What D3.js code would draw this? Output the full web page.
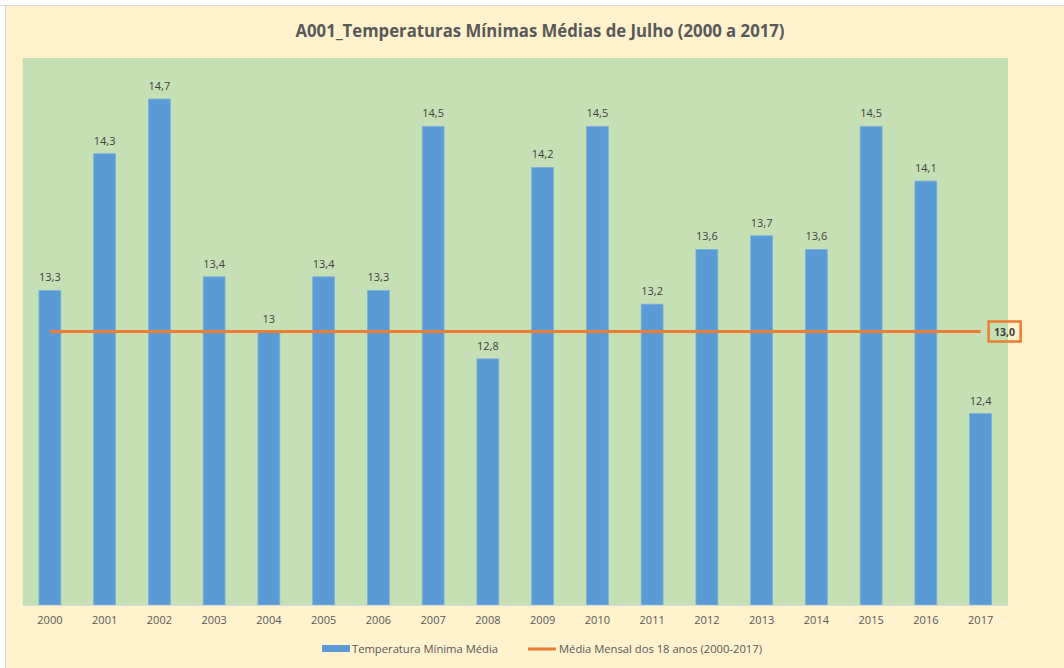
<!DOCTYPE html>
<html><head><meta charset="utf-8">
<script src="https://cdn.jsdelivr.net/npm/d3@7"></script>
<style>body{margin:0;background:#fff;}svg{display:block;}</style>
</head><body>
<script>
const years = ["2000","2001","2002","2003","2004","2005","2006","2007","2008","2009","2010","2011","2012","2013","2014","2015","2016","2017"];
const minTemps = [13.3,14.3,14.7,13.4,13.0,13.4,13.3,14.5,12.8,14.2,14.5,13.2,13.6,13.7,13.6,14.5,14.1,12.4];
const meanTemp = 13.0;
const titleText = "A001_Temperaturas Mínimas Médias de Julho (2000 a 2017)";
const legendLabels = ["Temperatura Mínima Média","Média Mensal dos 18 anos (2000-2017)"];

const W=1064,H=668;
const svg=d3.select("body").append("svg").attr("width",W).attr("height",H);
svg.append("rect").attr("width",W).attr("height",H).attr("fill","#fff");
svg.append("rect").attr("x",6).attr("y",6).attr("width",W-6).attr("height",H-6).attr("fill","#FFF2CC");
svg.append("line").attr("x1",0).attr("x2",W).attr("y1",5.5).attr("y2",5.5).attr("stroke","#d9d9d9");
svg.append("line").attr("x1",5.5).attr("x2",5.5).attr("y1",5).attr("y2",H).attr("stroke","#d9d9d9");

const font="'Open Sans', sans-serif";
const L=22.5,R=1008,T=58,B=605;
const x=d3.scaleBand().domain(years).range([L,R]).paddingInner(0.6).paddingOuter(0.3);
const y=d3.scaleLinear().domain([11,15]).range([B,T]);

svg.append("rect").attr("x",L).attr("y",T).attr("width",R-L).attr("height",B-T).attr("fill","#C5E0B4");

svg.append("text").attr("x",540).attr("y",37).attr("text-anchor","middle")
  .attr("font-family",font).attr("font-size",17).attr("font-weight","bold").attr("fill","#595959")
  .attr("textLength",489).attr("lengthAdjust","spacingAndGlyphs").text(titleText);

svg.selectAll("rect.bar").data(minTemps).enter().append("rect").attr("class","bar")
  .attr("x",(d,i)=>x(years[i])).attr("width",x.bandwidth())
  .attr("y",d=>y(d)).attr("height",d=>B-y(d))
  .attr("fill","#5B9BD5").attr("stroke","#7fb0dd").attr("stroke-width",0.8);

const fmt=d=>d3.format(".1f")(d).replace(".",",").replace(/,0$/,"");
svg.selectAll("text.lbl").data(minTemps).enter().append("text").attr("class","lbl")
  .attr("x",(d,i)=>x(years[i])+x.bandwidth()/2).attr("y",d=>y(d)-9)
  .attr("text-anchor","middle").attr("font-family",font).attr("font-size",11).attr("fill","#404040")
  .text(fmt);

const xAxis=svg.append("g").attr("transform",`translate(0,${B})`).call(d3.axisBottom(x).tickSize(0).tickPadding(11));
xAxis.select(".domain").attr("stroke","#d9d9d9");
xAxis.selectAll("text").attr("font-family",font).attr("font-size",11).attr("fill","#595959");

const x0=x(years[0])+x.bandwidth()/2, x1=x(years[years.length-1])+x.bandwidth()/2;
svg.append("line").attr("x1",x0).attr("x2",x1).attr("y1",y(meanTemp)).attr("y2",y(meanTemp))
  .attr("stroke","#ED7D31").attr("stroke-width",3);
svg.append("rect").attr("x",x1+8).attr("y",y(meanTemp)-10).attr("width",32).attr("height",20)
  .attr("fill","none").attr("stroke","#ED7D31").attr("stroke-width",2.5);
svg.append("text").attr("x",x1+24).attr("y",y(meanTemp)+4).attr("text-anchor","middle")
  .attr("font-family",font).attr("font-size",10.5).attr("font-weight","bold").attr("fill","#404040")
  .text(d3.format(".1f")(meanTemp).replace(".",","));

const ly=649;
svg.append("rect").attr("x",322).attr("y",ly-4).attr("width",28).attr("height",7).attr("fill","#5B9BD5");
svg.append("text").attr("x",352).attr("y",ly+4).attr("font-family",font).attr("font-size",11).attr("fill","#595959")
  .attr("textLength",146).attr("lengthAdjust","spacingAndGlyphs").text(legendLabels[0]);
svg.append("line").attr("x1",528).attr("x2",556).attr("y1",ly).attr("y2",ly).attr("stroke","#ED7D31").attr("stroke-width",3);
svg.append("text").attr("x",559).attr("y",ly+4).attr("font-family",font).attr("font-size",11).attr("fill","#595959")
  .attr("textLength",203).attr("lengthAdjust","spacingAndGlyphs").text(legendLabels[1]);
</script>
</body></html>
